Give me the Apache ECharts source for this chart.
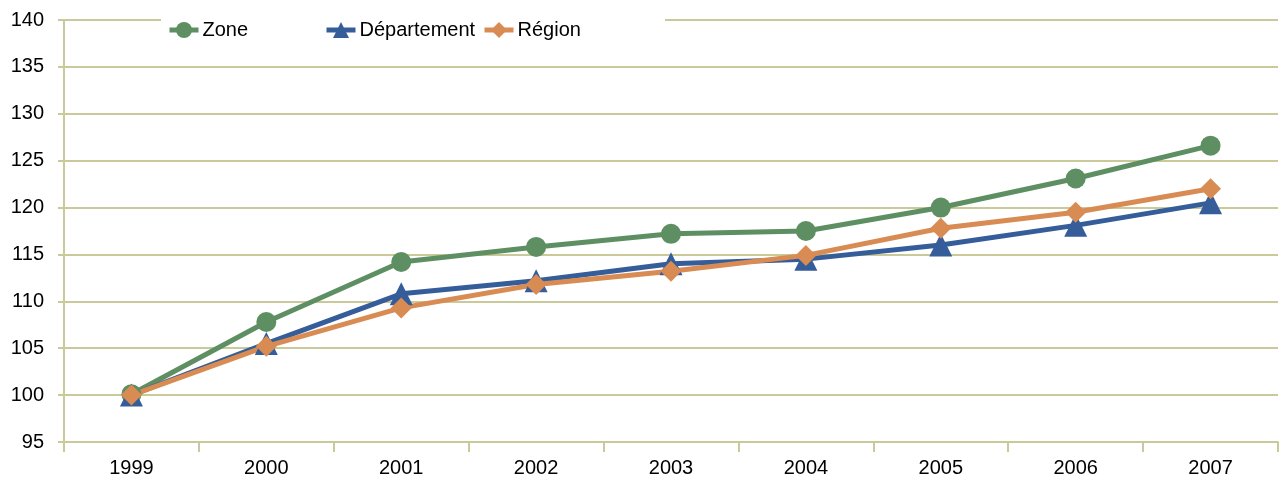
<!DOCTYPE html>
<html><head><meta charset="utf-8">
<script src="https://cdn.jsdelivr.net/npm/echarts@6/dist/echarts.min.js"></script>
<style>html,body{margin:0;padding:0;background:#fff}#c{width:1280px;height:480px}</style>
</head><body><div id="c"></div>
<script>
const years = ['1999','2000','2001','2002','2003','2004','2005','2006','2007'];
const zone = [100.1, 107.8, 114.2, 115.8, 117.2, 117.5, 120.0, 123.1, 126.6];
const departement = [100.0, 105.5, 110.8, 112.2, 114.0, 114.5, 116.0, 118.1, 120.5];
const region = [100.0, 105.2, 109.3, 111.8, 113.2, 114.9, 117.8, 119.5, 122.0];
const yTicks = {min: 95, max: 140, interval: 5};

const olive = '#C9C99A';
const cGreen = '#5E8F62', cBlue = '#355D99', cOrange = '#D98B54';
const font = 'Liberation Sans, Arial, sans-serif';

const chart = echarts.init(document.getElementById('c'));
const mk = (name, data, color, symbol, size) => ({
  name, type: 'line', data, symbol, symbolSize: size,
  lineStyle: {color, width: 5}, itemStyle: {color},
  z: 3, animation: false
});
const leg = (name, left) => ({
  data: [name], left, top: 20, itemWidth: 29, itemHeight: 20, itemGap: 0,
  padding: 0, lineStyle: {width: 5},
  textStyle: {fontFamily: font, fontSize: 20, color: '#000', padding: [0,0,0,-1]}, z: 10
});
chart.setOption({
  animation: false,
  grid: {left: 64, right: 2, top: 20, bottom: 38},
  graphic: [{type: 'rect', shape: {x: 161, y: 12, width: 504, height: 30}, style: {fill: '#fff'}, z: 5}],
  legend: [leg('Zone', 167), leg('Département', 324), leg('Région', 482)],
  xAxis: {
    type: 'category', data: years, boundaryGap: true,
    axisLine: {lineStyle: {color: olive, width: 2}},
    axisTick: {show: true, length: 10, interval: 0, lineStyle: {color: olive, width: 2}},
    axisLabel: {fontFamily: font, fontSize: 20, color: '#000', margin: 16}
  },
  yAxis: {
    type: 'value', min: yTicks.min, max: yTicks.max, interval: yTicks.interval,
    axisLine: {show: true, lineStyle: {color: olive, width: 2}},
    axisTick: {show: true, length: 6, lineStyle: {color: olive, width: 2}},
    splitLine: {lineStyle: {color: olive, width: 2}},
    axisLabel: {fontFamily: font, fontSize: 20, color: '#000', margin: 20}
  },
  series: [
    mk('Zone', zone, cGreen, 'circle', 20),
    mk('Département', departement, cBlue, 'triangle', 23),
    mk('Région', region, cOrange, 'diamond', 21)
  ]
});
</script></body></html>
